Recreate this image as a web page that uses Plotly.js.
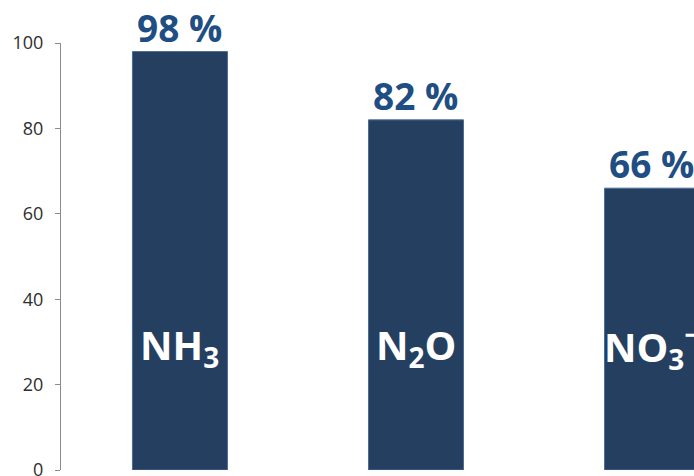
<!DOCTYPE html>
<html>
<head>
<meta charset="utf-8">
<script src="https://cdn.plot.ly/plotly-3.0.1.min.js"></script>
<style>html,body{margin:0;padding:0;background:#fff;}#chart{width:694px;height:476px;}</style>
</head>
<body>
<div id="chart"></div>
<script>
var categories = ["NH3", "N2O", "NO3-"];
var categoryLabels = ["NH<sub>3</sub>", "N<sub>2</sub>O", "NO<sub>3</sub><sup>−</sup>"];
var values = [98, 82, 66];
var yTicks = [0, 20, 40, 60, 80, 100];

var trace = {
  type: "bar",
  x: categories,
  y: values,
  marker: {color: "#253F61", line: {color: "#4C6C96", width: 1}},
  cliponaxis: false,
  hoverinfo: "skip"
};

var annotations = categories.map(function (c, i) {
  return {
    x: c, y: 29, xref: "x", yref: "y",
    text: "<b>" + categoryLabels[i] + "</b>",
    showarrow: false,
    xanchor: "center", yanchor: "middle",
    font: {family: "Open Sans", size: 40, color: "#FFFFFF"}
  };
}).concat(categories.map(function (c, i) {
  return {
    x: c, y: values[i], xref: "x", yref: "y",
    text: "<b>" + values[i] + " %</b>",
    showarrow: false,
    xanchor: "center", yanchor: "bottom", yshift: -3,
    font: {family: "Open Sans", size: 37, color: "#1F4E84"}
  };
}));

var layout = {
  width: 694, height: 476,
  margin: {l: 61, r: 0, t: 43, b: 6, pad: 0},
  paper_bgcolor: "#FFFFFF", plot_bgcolor: "#FFFFFF",
  showlegend: false,
  bargap: 0.5975,
  xaxis: {
    type: "category", range: [-0.504, 2.178],
    showticklabels: false, showline: false, showgrid: false, zeroline: false, ticks: ""
  },
  yaxis: {
    range: [0, 100], tickvals: yTicks, ticktext: yTicks.map(String),
    showgrid: false, zeroline: false, showline: true, linecolor: "#8C8C8C", linewidth: 1,
    ticks: "outside", ticklen: 5, tickcolor: "#8C8C8C", ticklabelstandoff: 8,
    ticklabeloverflow: "allow",
    tickfont: {family: "Open Sans", size: 18, color: "#2E2E2E"}
  },
  annotations: annotations
};

Plotly.newPlot("chart", [trace], layout, {staticPlot: true, displayModeBar: false});
</script>
</body>
</html>
